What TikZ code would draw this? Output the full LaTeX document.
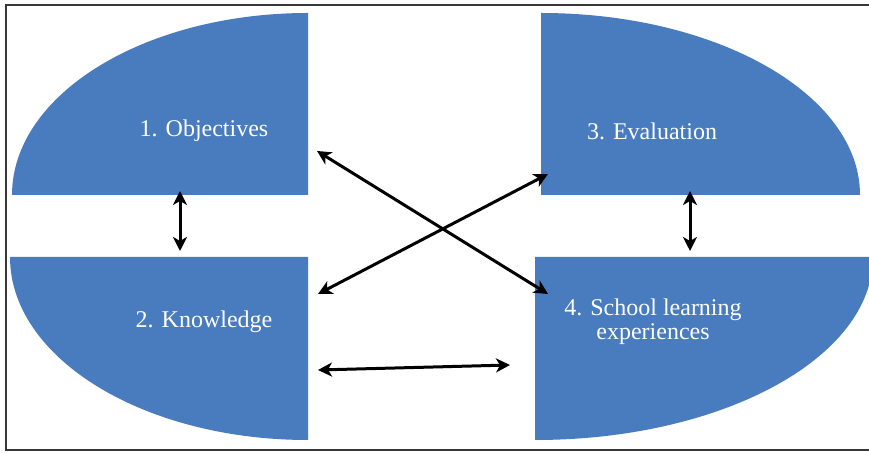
\documentclass[tikz,border=0pt]{standalone}
\usepackage{fontspec}
\setmainfont{Liberation Serif}
\usetikzlibrary{arrows.meta}
\definecolor{qblue}{RGB}{72,124,190}
\definecolor{frame}{RGB}{55,55,55}
\tikzset{
  quarter/.style={fill=qblue, draw=none},
  lbl/.style={text=white, font=\fontsize{24}{24}\selectfont, align=center, inner sep=0pt},
  link/.style={line width=3pt, {Stealth[length=14pt,width=14pt,inset=4pt]}-{Stealth[length=14pt,width=14pt,inset=4pt]}}
}
\begin{document}
\begin{tikzpicture}[x=1pt,y=1pt]
\useasboundingbox (0,0) rectangle (869,452);
\clip (0,0) rectangle (869,452);
\fill[white] (0,0) rectangle (869,452);
% frame
\draw[frame, line width=2.5pt] (6,2) rectangle (880,447);
% quarter ellipses
\path[quarter] (308,257) -- (12,257) arc[start angle=180, end angle=90, x radius=296, y radius=182] -- cycle;
\path[quarter] (308,195) -- (10,195) arc[start angle=180, end angle=270, x radius=298, y radius=183] -- cycle;
\path[quarter] (541,257) -- (541,439) arc[start angle=90, end angle=0, x radius=319, y radius=182] -- cycle;
\path[quarter] (535,195) -- (873,195) arc[start angle=0, end angle=-90, x radius=338, y radius=183] -- cycle;
% labels
\node[lbl] (obj) at (204,321) {1. Objectives};
\node[lbl] (kno) at (204,130) {2. Knowledge};
\node[lbl] (eva) at (652,321) {3. Evaluation};
\node[lbl] (sch) at (653,130) {4. School learning\\experiences};
% arrow endpoints
\coordinate (v1a) at (180,261);
\coordinate (v1b) at (180,201);
\coordinate (v2a) at (690,261);
\coordinate (v2b) at (690,201);
\coordinate (d1a) at (317,301);
\coordinate (d1b) at (548,158);
\coordinate (d2a) at (318,158);
\coordinate (d2b) at (548,278);
\coordinate (ha) at (318,82);
\coordinate (hb) at (510,87);
\draw[link] (v1a) -- (v1b);
\draw[link] (v2a) -- (v2b);
\draw[link] (d1a) -- (d1b);
\draw[link] (d2a) -- (d2b);
\draw[link] (ha) -- (hb);
\end{tikzpicture}
\end{document}
